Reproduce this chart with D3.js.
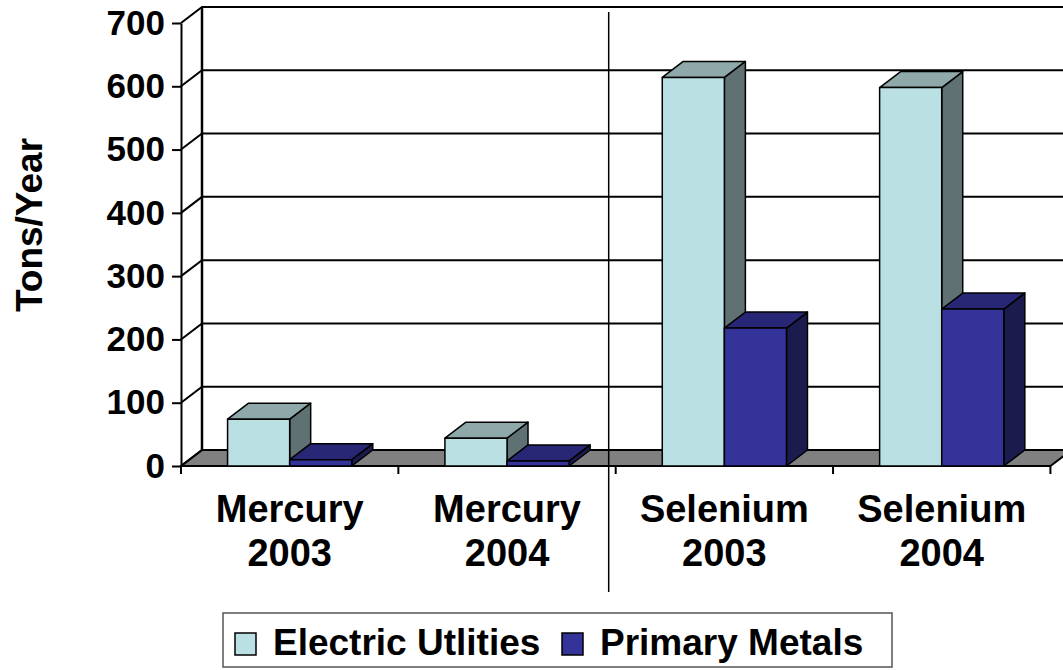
<!DOCTYPE html>
<html><head><meta charset="utf-8">
<script src="https://cdn.jsdelivr.net/npm/d3@7"></script>
<style>
html,body{margin:0;padding:0;background:#fff;}
svg text{font-family:"Liberation Sans",Arial,sans-serif;font-weight:bold;fill:#000;}
</style></head>
<body><svg id="c" width="1063" height="670"></svg>
<script>
const categories = [["Mercury","2003"],["Mercury","2004"],["Selenium","2003"],["Selenium","2004"]];
const seriesNames = ["Electric Utlities","Primary Metals"];
const electricUtilities = [74, 44, 614, 598];
const primaryMetals = [10, 8, 218, 248];
const yTicks = [0,100,200,300,400,500,600,700];
const yTitle = "Tons/Year";

const W = 1063, H = 670;
const svg = d3.select("#c");
const catKeys = categories.map(d => d.join(" "));
const values = [electricUtilities, primaryMetals];
const colors = [
  {front:"#BBE0E3", top:"#8FA9AB", side:"#5F7173"},
  {front:"#333399", top:"#272776", side:"#1B1B4E"}
];
const DX = 21, DY = -16;

const y = d3.scaleLinear().domain([0,700]).range([466,23]);
const x = d3.scaleBand().domain(catKeys).range([181,1050.4]).paddingInner(0).paddingOuter(0);
const xs = d3.scaleBand().domain(seriesNames).range([0,x.bandwidth()]).paddingInner(0).paddingOuter(0.75);

// floor
const x0 = x.range()[0], x1 = x.range()[1];
svg.append("polygon")
  .attr("points", [[x0,y(0)],[x1,y(0)],[x1+DX,y(0)+DY],[x0+DX,y(0)+DY]].map(p=>p.join(",")).join(" "))
  .attr("fill","#808080").attr("stroke","#000").attr("stroke-width",2);

// walls + gridlines
const grid = svg.append("g").attr("stroke","#000").attr("stroke-width",2).attr("fill","none");
yTicks.forEach(t => {
  if (t === 0) return;
  grid.append("polyline")
    .attr("points", [[x0,y(t)],[x0+DX,y(t)+DY],[W+40,y(t)+DY]].map(p=>p.join(",")).join(" "));
});
grid.append("line").attr("x1",x0+DX).attr("x2",x0+DX).attr("y1",y(700)+DY).attr("y2",y(0)+DY).attr("stroke-width",2.5);
grid.append("line").attr("x1",x0).attr("x2",x0+DX).attr("y1",y(0)).attr("y2",y(0)+DY);

// bars
catKeys.forEach((c,i) => {
  seriesNames.forEach((s,j) => {
    const v = values[j][i];
    const bx = x(c) + xs(s), bw = xs.bandwidth();
    const yt = y(v), yb = y(0);
    const g = svg.append("g").attr("stroke","#000").attr("stroke-width",1.5).attr("stroke-linejoin","round");
    g.append("polygon").attr("fill",colors[j].side)
      .attr("points",[[bx+bw,yt],[bx+bw+DX,yt+DY],[bx+bw+DX,yb+DY],[bx+bw,yb]].map(p=>p.join(",")).join(" "));
    g.append("polygon").attr("fill",colors[j].top)
      .attr("points",[[bx,yt],[bx+DX,yt+DY],[bx+bw+DX,yt+DY],[bx+bw,yt]].map(p=>p.join(",")).join(" "));
    g.append("rect").attr("fill",colors[j].front)
      .attr("x",bx).attr("y",yt).attr("width",bw).attr("height",yb-yt);
  });
});

// y axis
const ya = svg.append("g").attr("transform",`translate(${x0},0)`)
  .call(d3.axisLeft(y).tickValues(yTicks).tickSize(9).tickSizeOuter(0).tickPadding(7));
ya.select(".domain").attr("stroke","#000").attr("stroke-width",2);
ya.selectAll(".tick line").attr("stroke","#000").attr("stroke-width",2);
ya.selectAll(".tick text").attr("font-size",35).attr("font-family","Liberation Sans, Arial, sans-serif")
  .attr("font-weight","bold").attr("fill","#000");

// x ticks
const xb = svg.append("g").attr("stroke","#000").attr("stroke-width",2);
catKeys.concat(["__end"]).forEach((c,i) => {
  const xx = i < catKeys.length ? x(c) : x1;
  xb.append("line").attr("x1",xx).attr("x2",xx).attr("y1",y(0)).attr("y2",y(0)+8);
});

// category labels
categories.forEach((c,i) => {
  const cx = x(catKeys[i]) + x.bandwidth()/2;
  const t = svg.append("text").attr("text-anchor","middle").attr("font-size",38);
  t.append("tspan").attr("x",cx).attr("y",522).text(c[0]);
  t.append("tspan").attr("x",cx).attr("y",566).text(c[1]);
});

// divider
const dvx = x(catKeys[2]) - 7;
svg.append("line").attr("x1",dvx).attr("x2",dvx).attr("y1",12).attr("y2",592)
  .attr("stroke","#000").attr("stroke-width",1.5);

// y title
svg.append("text").attr("transform","translate(42,225) rotate(-90)")
  .attr("text-anchor","middle").attr("font-size",37).text(yTitle);

// legend
const lg = svg.append("g");
lg.append("rect").attr("x",223).attr("y",613).attr("width",669).attr("height",54)
  .attr("fill","#fff").attr("stroke","#555").attr("stroke-width",1.5);
const legX = [235, 562];
seriesNames.forEach((s,j) => {
  lg.append("rect").attr("x",legX[j]).attr("y",633).attr("width",21).attr("height",22)
    .attr("fill",colors[j].front).attr("stroke","#000").attr("stroke-width",1.5);
  lg.append("text").attr("x",legX[j]+38).attr("y",655).attr("font-size",37).text(s);
});
</script></body></html>
